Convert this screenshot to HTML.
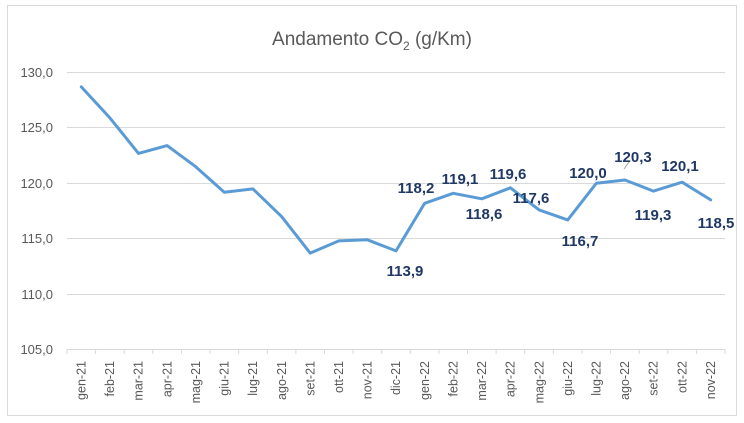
<!DOCTYPE html>
<html><head><meta charset="utf-8"><style>body{margin:0;background:#fff}svg{display:block}</style></head><body>
<svg width="744" height="423" xmlns="http://www.w3.org/2000/svg" font-family="Liberation Sans, sans-serif">
<rect x="7.5" y="5.5" width="729" height="410" fill="#fff" stroke="#d9d9d9"/>
<text x="372" y="45" text-anchor="middle" font-size="19" fill="#595959">Andamento CO<tspan font-size="12" dy="5">2</tspan><tspan dy="-5"> (g/Km)</tspan></text>
<g stroke="#d9d9d9" stroke-width="1">
<line x1="67" x2="725" y1="72.5" y2="72.5"/><line x1="67" x2="725" y1="127.5" y2="127.5"/><line x1="67" x2="725" y1="183.5" y2="183.5"/><line x1="67" x2="725" y1="238.5" y2="238.5"/><line x1="67" x2="725" y1="294.5" y2="294.5"/><line x1="67" x2="725" y1="349.5" y2="349.5"/>
<line x1="67" x2="67" y1="349" y2="354"/><line x1="95.6" x2="95.6" y1="349" y2="354"/><line x1="124.2" x2="124.2" y1="349" y2="354"/><line x1="152.8" x2="152.8" y1="349" y2="354"/><line x1="181.4" x2="181.4" y1="349" y2="354"/><line x1="210" x2="210" y1="349" y2="354"/><line x1="238.7" x2="238.7" y1="349" y2="354"/><line x1="267.3" x2="267.3" y1="349" y2="354"/><line x1="295.9" x2="295.9" y1="349" y2="354"/><line x1="324.5" x2="324.5" y1="349" y2="354"/><line x1="353.1" x2="353.1" y1="349" y2="354"/><line x1="381.7" x2="381.7" y1="349" y2="354"/><line x1="410.3" x2="410.3" y1="349" y2="354"/><line x1="438.9" x2="438.9" y1="349" y2="354"/><line x1="467.5" x2="467.5" y1="349" y2="354"/><line x1="496.1" x2="496.1" y1="349" y2="354"/><line x1="524.7" x2="524.7" y1="349" y2="354"/><line x1="553.3" x2="553.3" y1="349" y2="354"/><line x1="582" x2="582" y1="349" y2="354"/><line x1="610.6" x2="610.6" y1="349" y2="354"/><line x1="639.2" x2="639.2" y1="349" y2="354"/><line x1="667.8" x2="667.8" y1="349" y2="354"/><line x1="696.4" x2="696.4" y1="349" y2="354"/><line x1="725" x2="725" y1="349" y2="354"/>
</g>
<g font-size="13" fill="#595959" text-anchor="end">
<text x="53" y="77">130,0</text><text x="53" y="132">125,0</text><text x="53" y="188">120,0</text><text x="53" y="243">115,0</text><text x="53" y="299">110,0</text><text x="53" y="354">105,0</text>
</g>
<g font-size="12.5" fill="#595959" text-anchor="end">
<text transform="translate(85.5,361) rotate(-90)">gen-21</text>
<text transform="translate(114.1,361) rotate(-90)">feb-21</text>
<text transform="translate(142.7,361) rotate(-90)">mar-21</text>
<text transform="translate(171.3,361) rotate(-90)">apr-21</text>
<text transform="translate(199.9,361) rotate(-90)">mag-21</text>
<text transform="translate(228.5,361) rotate(-90)">giu-21</text>
<text transform="translate(257.1,361) rotate(-90)">lug-21</text>
<text transform="translate(285.8,361) rotate(-90)">ago-21</text>
<text transform="translate(314.4,361) rotate(-90)">set-21</text>
<text transform="translate(343,361) rotate(-90)">ott-21</text>
<text transform="translate(371.6,361) rotate(-90)">nov-21</text>
<text transform="translate(400.2,361) rotate(-90)">dic-21</text>
<text transform="translate(428.8,361) rotate(-90)">gen-22</text>
<text transform="translate(457.4,361) rotate(-90)">feb-22</text>
<text transform="translate(486,361) rotate(-90)">mar-22</text>
<text transform="translate(514.6,361) rotate(-90)">apr-22</text>
<text transform="translate(543.3,361) rotate(-90)">mag-22</text>
<text transform="translate(571.9,361) rotate(-90)">giu-22</text>
<text transform="translate(600.5,361) rotate(-90)">lug-22</text>
<text transform="translate(629.1,361) rotate(-90)">ago-22</text>
<text transform="translate(657.7,361) rotate(-90)">set-22</text>
<text transform="translate(686.3,361) rotate(-90)">ott-22</text>
<text transform="translate(714.9,361) rotate(-90)">nov-22</text>
</g>
<polyline fill="none" stroke="#5b9bd5" stroke-width="3" stroke-linejoin="round" stroke-linecap="round" points="81.3,86.9 109.9,117.9 138.5,153.4 167.1,145.6 195.7,166.7 224.3,192.2 252.9,188.9 281.6,216.6 310.2,253.1 338.8,240.9 367.4,239.8 396,250.9 424.6,203.3 453.2,193.3 481.8,198.8 510.4,187.8 539.1,209.9 567.7,219.9 596.3,183.3 624.9,180.0 653.5,191.1 682.1,182.2 710.7,199.9"/>
<line x1="624" y1="169" x2="629" y2="162" stroke="#a6a6a6"/>
<g font-size="15" font-weight="bold" fill="#1f3864" text-anchor="middle">
<text x="405" y="276">113,9</text><text x="416" y="193">118,2</text><text x="460" y="184">119,1</text><text x="508" y="179">119,6</text><text x="484" y="219">118,6</text><text x="531" y="203">117,6</text><text x="580" y="246">116,7</text><text x="588" y="178">120,0</text><text x="633" y="162">120,3</text><text x="653" y="220">119,3</text><text x="680" y="171">120,1</text><text x="716" y="228">118,5</text>
</g>
</svg>
</body></html>
